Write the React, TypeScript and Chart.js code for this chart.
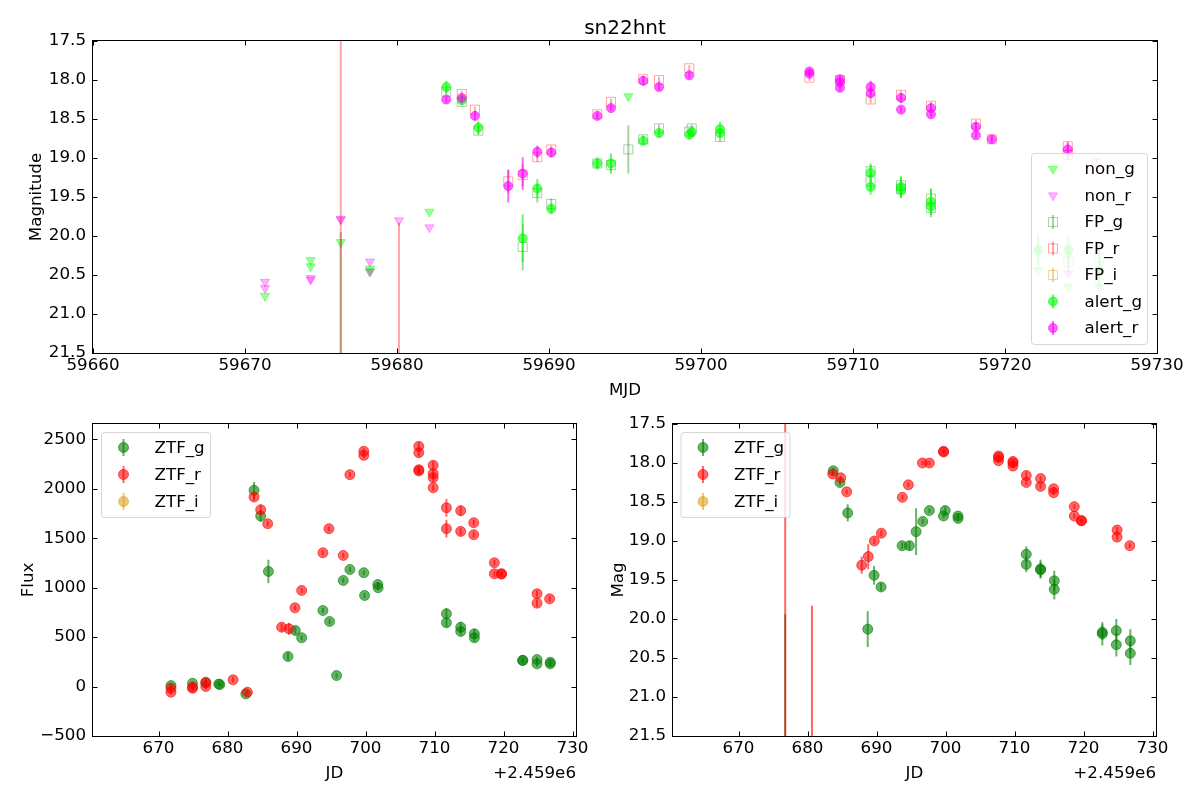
import React, { useEffect, useRef } from "react";
import { Chart, registerables } from "chart.js";

Chart.register(...registerables);

const FONT = "'DejaVu Sans', 'Liberation Sans', sans-serif";
const FS = 16.7;

// ---------------- top panel (MJD, magnitude[, error]) ----------------
const MJD_TICKS = [59660, 59670, 59680, 59690, 59700, 59710, 59720, 59730];
const MAG_TICKS = [17.5, 18.0, 18.5, 19.0, 19.5, 20.0, 20.5, 21.0, 21.5];

const NON_G: number[][] = [
  [59671.32, 20.77], [59674.32, 20.31], [59674.32, 20.39], [59676.3, 20.08],
  [59678.22, 20.42], [59678.22, 20.45], [59682.13, 19.69], [59695.22, 18.21],
  [59722.19, 20.44], [59724.17, 20.65], [59726.2, 20.65],
];
const NON_R: number[][] = [
  [59671.32, 20.59], [59671.32, 20.67], [59674.32, 20.54], [59674.32, 20.56],
  [59676.3, 19.78], [59676.3, 19.79], [59678.22, 20.33], [59678.22, 20.46],
  [59680.13, 19.8], [59682.13, 19.89], [59724.17, 20.48],
];
const FP_G: number[][] = [
  [59676.3, 22.5, 2.55], [59683.24, 18.15, 0.04], [59684.26, 18.28, 0.04],
  [59685.35, 18.65, 0.05], [59688.27, 20.14, 0.3], [59689.23, 19.45, 0.12],
  [59690.15, 19.59, 0.07], [59693.18, 19.07, 0.06], [59694.08, 19.09, 0.08],
  [59695.22, 18.89, 0.31], [59696.2, 18.76, 0.05], [59697.24, 18.62, 0.05],
  [59699.23, 18.66, 0.05], [59699.39, 18.62, 0.05], [59701.25, 18.73, 0.06],
  [59711.16, 19.17, 0.08], [59711.16, 19.3, 0.08], [59713.16, 19.35, 0.1],
  [59713.16, 19.4, 0.1], [59715.13, 19.52, 0.12], [59715.13, 19.64, 0.12],
  [59724.17, 20.33, 0.15], [59726.2, 20.28, 0.15],
];
const FP_R: number[][] = [
  [59676.3, 22.5, 5.2], [59680.13, 22.5, 2.67], [59684.26, 18.18, 0.04],
  [59685.13, 18.38, 0.04], [59687.32, 19.3, 0.15], [59688.27, 19.22, 0.15],
  [59689.23, 18.99, 0.06], [59690.15, 18.89, 0.05], [59693.18, 18.44, 0.04],
  [59694.08, 18.28, 0.04], [59696.2, 17.99, 0.04], [59697.24, 18.0, 0.04],
  [59699.23, 17.85, 0.04], [59707.13, 17.97, 0.04], [59709.14, 18.0, 0.04],
  [59711.16, 18.25, 0.05], [59713.16, 18.19, 0.05], [59715.13, 18.33, 0.05],
  [59718.09, 18.56, 0.05], [59719.13, 18.76, 0.04], [59724.13, 18.85, 0.06],
  [59724.13, 18.96, 0.06], [59726.03, 19.07, 0.06],
];
const FP_I: number[][] = [];
const ALERT_G: number[][] = [
  [59683.24, 18.09, 0.08], [59684.26, 18.26, 0.05], [59685.35, 18.61, 0.09],
  [59688.27, 20.03, 0.31], [59689.23, 19.39, 0.12], [59690.15, 19.65, 0.07],
  [59693.18, 19.07, 0.08], [59694.08, 19.07, 0.13], [59696.2, 18.78, 0.05],
  [59697.24, 18.68, 0.06], [59699.23, 18.7, 0.06], [59699.39, 18.67, 0.06],
  [59701.25, 18.63, 0.09], [59701.25, 18.68, 0.06], [59711.16, 19.19, 0.12],
  [59711.16, 19.37, 0.1], [59713.16, 19.37, 0.14], [59713.16, 19.41, 0.1],
  [59715.13, 19.56, 0.17], [59715.13, 19.62, 0.1], [59722.19, 20.18, 0.2],
  [59724.17, 20.18, 0.2], [59726.2, 20.44, 0.2],
];
const ALERT_R: number[][] = [
  [59683.24, 18.25, 0.04], [59684.26, 18.23, 0.04], [59685.13, 18.46, 0.06],
  [59687.32, 19.36, 0.21], [59688.27, 19.2, 0.21], [59689.23, 18.92, 0.08],
  [59690.15, 18.93, 0.06], [59693.18, 18.46, 0.04], [59694.08, 18.36, 0.04],
  [59696.2, 18.01, 0.06], [59697.24, 18.09, 0.04], [59699.23, 17.94, 0.04],
  [59707.13, 17.89, 0.04], [59707.13, 17.92, 0.04], [59709.14, 17.99, 0.04],
  [59709.14, 18.03, 0.04], [59709.14, 18.1, 0.04], [59711.16, 18.09, 0.08],
  [59711.16, 18.17, 0.06], [59713.16, 18.23, 0.06], [59713.16, 18.38, 0.04],
  [59715.13, 18.36, 0.05], [59715.13, 18.44, 0.04], [59718.09, 18.6, 0.05],
  [59718.09, 18.71, 0.04], [59719.13, 18.76, 0.04], [59724.13, 18.89, 0.08],
];

// ---------------- bottom panels (JD, flux / mag, error) ----------------
const JD_TICKS = [2459670, 2459680, 2459690, 2459700, 2459710, 2459720, 2459730];
const FLUX_TICKS = [-500, 0, 500, 1000, 1500, 2000, 2500];

const ZTF_G_FLUX: number[][] = [
  [2459671.8, 10, 25], [2459674.92, 33, 20], [2459676.85, 37, 30],
  [2459678.72, 25, 18], [2459678.88, 20, 18], [2459682.65, -74, 25],
  [2459683.84, 1984, 85], [2459684.8, 1724, 60], [2459685.92, 1164, 118],
  [2459688.76, 304, 40], [2459689.82, 567, 40], [2459690.74, 493, 25],
  [2459693.82, 769, 25], [2459694.79, 658, 25], [2459695.8, 111, 25],
  [2459696.77, 1073, 25], [2459697.73, 1184, 25], [2459699.75, 1151, 25],
  [2459699.86, 921, 25], [2459701.78, 1032, 25], [2459701.82, 999, 25],
  [2459711.72, 736, 55], [2459711.72, 645, 45], [2459713.79, 600, 55],
  [2459713.79, 557, 40], [2459715.77, 533, 50], [2459715.77, 493, 40],
  [2459722.76, 263, 20], [2459722.8, 265, 20], [2459724.85, 273, 30],
  [2459724.85, 230, 30], [2459726.77, 246, 25], [2459726.77, 230, 25],
];
const ZTF_R_FLUX: number[][] = [
  [2459671.8, -17, 25], [2459671.8, -57, 25], [2459674.92, -7, 20],
  [2459674.92, -17, 20], [2459676.85, 44, 40], [2459676.85, 0, 30],
  [2459680.8, 68, 28], [2459682.88, -57, 25], [2459683.84, 1916, 40],
  [2459684.8, 1788, 50], [2459685.82, 1646, 30], [2459687.84, 600, 40],
  [2459688.9, 584, 60], [2459689.77, 796, 25], [2459690.74, 972, 25],
  [2459693.82, 1353, 25], [2459694.69, 1596, 25], [2459696.77, 1326, 25],
  [2459697.73, 2143, 25], [2459699.75, 2379, 30], [2459699.75, 2338, 30],
  [2459707.72, 2429, 40], [2459707.72, 2365, 40], [2459707.72, 2193, 40],
  [2459707.72, 2180, 30], [2459709.8, 2237, 40], [2459709.8, 2153, 40],
  [2459709.8, 2112, 40], [2459709.8, 2011, 30], [2459711.72, 1808, 90],
  [2459711.72, 1596, 90], [2459713.79, 1778, 50], [2459713.79, 1569, 40],
  [2459715.68, 1657, 30], [2459715.68, 1535, 30], [2459718.67, 1252, 30],
  [2459718.67, 1140, 30], [2459719.68, 1140, 25], [2459719.72, 1138, 25],
  [2459724.85, 938, 35], [2459724.85, 843, 35], [2459726.68, 887, 30],
];
const ZTF_I_FLUX: number[][] = [];

const ZTF_G_MAG: number[][] = [
  [2459676.76, 22.5, 2.56], [2459683.73, 18.1, 0.04], [2459684.7, 18.25, 0.04],
  [2459685.82, 18.64, 0.11], [2459688.72, 20.13, 0.23], [2459689.64, 19.44, 0.12],
  [2459690.65, 19.59, 0.05], [2459693.7, 19.06, 0.04], [2459694.76, 19.06, 0.06],
  [2459695.73, 18.88, 0.3], [2459696.7, 18.75, 0.03], [2459697.66, 18.61, 0.03],
  [2459699.7, 18.68, 0.03], [2459699.95, 18.61, 0.05], [2459701.8, 18.68, 0.03],
  [2459701.82, 18.71, 0.03], [2459711.7, 19.17, 0.1], [2459711.7, 19.3, 0.1],
  [2459713.77, 19.36, 0.12], [2459713.77, 19.37, 0.1], [2459715.76, 19.51, 0.13],
  [2459715.76, 19.62, 0.13], [2459722.72, 20.19, 0.15], [2459722.72, 20.17, 0.1],
  [2459724.75, 20.15, 0.15], [2459724.75, 20.33, 0.15], [2459726.78, 20.28, 0.15],
  [2459726.78, 20.44, 0.15],
];
const ZTF_R_MAG: number[][] = [
  [2459676.76, 22.5, 5.2], [2459680.64, 22.5, 2.67], [2459683.64, 18.14, 0.03],
  [2459684.8, 18.19, 0.03], [2459685.67, 18.37, 0.03], [2459687.85, 19.31, 0.11],
  [2459688.8, 19.2, 0.16], [2459689.68, 19.0, 0.04], [2459690.69, 18.9, 0.04],
  [2459693.74, 18.44, 0.03], [2459694.61, 18.28, 0.03], [2459696.65, 18.0, 0.03],
  [2459697.66, 18.0, 0.03], [2459699.7, 17.85, 0.02], [2459699.72, 17.86, 0.02],
  [2459707.68, 17.91, 0.02], [2459707.68, 17.93, 0.02], [2459707.68, 17.97, 0.02],
  [2459709.77, 17.98, 0.02], [2459709.77, 18.0, 0.02], [2459709.77, 18.04, 0.02],
  [2459711.7, 18.16, 0.05], [2459711.7, 18.25, 0.03], [2459713.77, 18.2, 0.03],
  [2459713.77, 18.3, 0.03], [2459715.66, 18.33, 0.03], [2459715.66, 18.38, 0.03],
  [2459718.66, 18.56, 0.03], [2459718.66, 18.68, 0.03], [2459719.68, 18.74, 0.02],
  [2459719.72, 18.74, 0.02], [2459724.86, 18.86, 0.04], [2459724.86, 18.95, 0.04],
  [2459726.7, 19.06, 0.03],
];
const ZTF_I_MAG: number[][] = [];

// ---------------- styles ----------------
type Sty = { style: string; r: number; fill: string; stroke: string; bw: number; err: string | null };
const S_NON_G: Sty = { style: "triDown", r: 5.3, fill: "rgba(0,255,0,0.4)", stroke: "rgba(0,255,0,0.4)", bw: 1, err: null };
const S_NON_R: Sty = { style: "triDown", r: 5.3, fill: "rgba(255,0,255,0.3)", stroke: "rgba(255,0,255,0.3)", bw: 1, err: null };
const S_FP_G: Sty = { style: "rect", r: 6.4, fill: "rgba(0,0,0,0)", stroke: "rgba(0,128,0,0.35)", bw: 1, err: "rgba(0,128,0,0.35)" };
const S_FP_R: Sty = { style: "rect", r: 6.4, fill: "rgba(0,0,0,0)", stroke: "rgba(255,0,0,0.35)", bw: 1, err: "rgba(255,0,0,0.35)" };
const S_FP_I: Sty = { style: "rect", r: 6.4, fill: "rgba(0,0,0,0)", stroke: "rgba(218,165,32,0.45)", bw: 1, err: "rgba(218,165,32,0.45)" };
const S_AL_G: Sty = { style: "circle", r: 4.5, fill: "rgba(0,255,0,0.6)", stroke: "rgba(0,255,0,0.6)", bw: 1, err: "rgba(0,255,0,0.6)" };
const S_AL_R: Sty = { style: "circle", r: 4.5, fill: "rgba(255,0,255,0.6)", stroke: "rgba(255,0,255,0.6)", bw: 1, err: "rgba(255,0,255,0.6)" };
const S_ZTF_G: Sty = { style: "circle", r: 5, fill: "rgba(0,128,0,0.6)", stroke: "rgba(0,128,0,0.6)", bw: 1, err: "rgba(0,128,0,0.6)" };
const S_ZTF_R: Sty = { style: "circle", r: 5, fill: "rgba(255,0,0,0.6)", stroke: "rgba(255,0,0,0.6)", bw: 1, err: "rgba(255,0,0,0.6)" };
const S_ZTF_I: Sty = { style: "circle", r: 5, fill: "rgba(218,165,32,0.6)", stroke: "rgba(218,165,32,0.6)", bw: 1, err: "rgba(218,165,32,0.6)" };

const PAD_L = 80, PAD_R = 50, PAD_T = 24, PAD_B = 30;

function dataset(label: string, pts: number[][], s: Sty, order: number) {
  return {
    label,
    data: pts.map((p) => ({ x: p[0], y: p[1] })),
    errs: s.err ? pts.map((p) => p[2] || 0) : null,
    errColor: s.err,
    pointStyle: s.style === "triDown" ? "triangle" : s.style,
    pointRotation: s.style === "triDown" ? 180 : 0,
    pointRadius: s.r,
    pointHoverRadius: s.r,
    pointBackgroundColor: s.fill,
    pointBorderColor: s.stroke,
    pointBorderWidth: s.bw,
    backgroundColor: s.fill,
    borderColor: s.stroke,
    showLine: false,
    clip: 0,
    order,
  };
}

function drawMarker(ctx: CanvasRenderingContext2D, s: Sty, x: number, y: number) {
  const r = s.r;
  ctx.beginPath();
  if (s.style === "circle") ctx.arc(x, y, r, 0, Math.PI * 2);
  else if (s.style === "rect") {
    const h = r * Math.SQRT1_2;
    ctx.rect(x - h, y - h, 2 * h, 2 * h);
  } else {
    ctx.moveTo(x, y + r);
    ctx.lineTo(x - r * 0.866, y - r * 0.5);
    ctx.lineTo(x + r * 0.866, y - r * 0.5);
    ctx.closePath();
  }
  ctx.fillStyle = s.fill;
  ctx.fill();
  ctx.strokeStyle = s.stroke;
  ctx.lineWidth = s.bw;
  ctx.stroke();
}

const errPlugin = {
  id: "errbars",
  beforeDatasetDraw(chart: any, args: any) {
    const ds = chart.data.datasets[args.index];
    if (!ds.errs) return;
    const meta = args.meta;
    const xs = chart.scales[meta.xAxisID];
    const ys = chart.scales[meta.yAxisID];
    const a = chart.chartArea;
    const ctx = chart.ctx;
    ctx.save();
    ctx.beginPath();
    ctx.rect(a.left, a.top, a.right - a.left, a.bottom - a.top);
    ctx.clip();
    ctx.strokeStyle = ds.errColor;
    ctx.lineWidth = 2;
    ds.data.forEach((pt: any, j: number) => {
      const e = ds.errs[j];
      if (!e) return;
      const x = xs.getPixelForValue(pt.x);
      ctx.beginPath();
      ctx.moveTo(x, ys.getPixelForValue(pt.y - e));
      ctx.lineTo(x, ys.getPixelForValue(pt.y + e));
      ctx.stroke();
    });
    ctx.restore();
  },
};

const framePlugin = {
  id: "frame",
  afterDatasetsDraw(chart: any) {
    const ctx = chart.ctx;
    const a = chart.chartArea;
    const xs = chart.scales.x;
    const ys = chart.scales.y;
    ctx.save();
    ctx.strokeStyle = "#000";
    ctx.lineWidth = 1;
    const L = Math.round(a.left) - 0.5, R = Math.round(a.right) + 0.5;
    const T = Math.round(a.top) - 0.5, B = Math.round(a.bottom) + 0.5;
    ctx.strokeRect(L, T, R - L, B - T);
    const TL = 5;
    ctx.beginPath();
    xs.ticks.forEach((t: any) => {
      const px = Math.round(xs.getPixelForValue(t.value)) + 0.5;
      ctx.moveTo(px, B);
      ctx.lineTo(px, B - TL);
      ctx.moveTo(px, T);
      ctx.lineTo(px, T + TL);
    });
    ys.ticks.forEach((t: any) => {
      const py = Math.round(ys.getPixelForValue(t.value)) + 0.5;
      ctx.moveTo(L, py);
      ctx.lineTo(L + TL, py);
      ctx.moveTo(R, py);
      ctx.lineTo(R - TL, py);
    });
    ctx.stroke();
    ctx.restore();
  },
};

type LegendCfg = {
  fromRight: boolean;
  dx: number;
  dy: number;
  w: number;
  h: number;
  row0: number;
  rowStep: number;
  mx: number;
  tx: number;
  errHalf: number;
  items: { label: string; s: Sty }[];
};

function makeLegendPlugin(cfg: LegendCfg) {
  return {
    id: "boxLegend",
    afterDraw(chart: any) {
      const ctx = chart.ctx;
      const a = chart.chartArea;
      const x0 = cfg.fromRight ? a.right - cfg.dx : a.left + cfg.dx;
      const y0 = a.top + cfg.dy;
      ctx.save();
      ctx.beginPath();
      if ((ctx as any).roundRect) (ctx as any).roundRect(x0 + 0.5, y0 + 0.5, cfg.w, cfg.h, 3);
      else ctx.rect(x0 + 0.5, y0 + 0.5, cfg.w, cfg.h);
      ctx.fillStyle = "rgba(255,255,255,0.8)";
      ctx.fill();
      ctx.strokeStyle = "rgba(204,204,204,0.8)";
      ctx.lineWidth = 1;
      ctx.stroke();
      cfg.items.forEach((it, i) => {
        const cy = y0 + cfg.row0 + i * cfg.rowStep;
        const cx = x0 + cfg.mx;
        if (it.s.err) {
          ctx.strokeStyle = it.s.err;
          ctx.lineWidth = 2;
          ctx.beginPath();
          ctx.moveTo(cx, cy - cfg.errHalf);
          ctx.lineTo(cx, cy + cfg.errHalf);
          ctx.stroke();
        }
        drawMarker(ctx, it.s, cx, cy);
        ctx.fillStyle = "#000";
        ctx.font = `${FS}px ${FONT}`;
        ctx.textBaseline = "middle";
        ctx.textAlign = "left";
        ctx.fillText(it.label, x0 + cfg.tx, cy + 1);
      });
      ctx.restore();
    },
  };
}

function axis(horizontal: boolean, ticks: number[], min: number, max: number, fmt: (v: number) => string, reverse = false) {
  return {
    type: "linear",
    position: horizontal ? "bottom" : "left",
    min,
    max,
    reverse,
    grid: { display: false, drawTicks: false, tickLength: 0 },
    border: { display: false },
    afterBuildTicks: (s: any) => {
      s.ticks = ticks.map((v) => ({ value: v }));
    },
    afterFit: (s: any) => {
      if (horizontal) s.height = PAD_B;
      else s.width = PAD_L;
    },
    ticks: {
      callback: (v: any) => fmt(Number(v)),
      autoSkip: false,
      maxRotation: 0,
      minRotation: 0,
      padding: horizontal ? 3 : 7,
      color: "#000",
      font: { family: FONT, size: FS },
    },
  };
}

type Box = { left: number; top: number; w: number; h: number };

function Panel({ box, build }: { box: Box; build: () => any }) {
  const ref = useRef<HTMLCanvasElement | null>(null);
  useEffect(() => {
    const chart = new Chart(ref.current as HTMLCanvasElement, build());
    return () => chart.destroy();
  }, []);
  return (
    <div
      style={{
        position: "absolute",
        left: box.left - PAD_L,
        top: box.top - PAD_T,
        width: box.w + PAD_L + PAD_R,
        height: box.h + PAD_T + PAD_B,
      }}
    >
      <canvas ref={ref} />
    </div>
  );
}

function baseOptions(x: any, y: any) {
  return {
    responsive: true,
    maintainAspectRatio: false,
    animation: false,
    events: [],
    layout: { padding: { left: 0, top: PAD_T, right: PAD_R, bottom: 0 } },
    scales: { x, y },
    plugins: { legend: { display: false }, tooltip: { enabled: false }, title: { display: false } },
  };
}

const fmtMag = (v: number) => v.toFixed(1);
const fmtInt = (v: number) => (v < 0 ? "\u2212" + String(Math.abs(v)) : String(v));
const fmtJD = (v: number) => String(Math.round(v - 2459000));

function buildTop() {
  const series: [string, number[][], Sty][] = [
    ["non_g", NON_G, S_NON_G],
    ["non_r", NON_R, S_NON_R],
    ["FP_g", FP_G, S_FP_G],
    ["FP_r", FP_R, S_FP_R],
    ["FP_i", FP_I, S_FP_I],
    ["alert_g", ALERT_G, S_AL_G],
    ["alert_r", ALERT_R, S_AL_R],
  ];
  const n = series.length;
  return {
    type: "scatter",
    data: { datasets: series.map(([l, p, s], i) => dataset(l, p, s, n - i)) },
    options: baseOptions(
      axis(true, MJD_TICKS, 59660, 59730, fmtInt),
      axis(false, MAG_TICKS, 17.5, 21.5, fmtMag, true)
    ),
    plugins: [
      errPlugin,
      framePlugin,
      makeLegendPlugin({
        fromRight: true, dx: 126, dy: 112, w: 116, h: 191, row0: 16, rowStep: 26.5,
        mx: 22, tx: 53.5, errHalf: 7,
        items: series.map(([l, , s]) => ({ label: l, s })),
      }),
    ],
  };
}

function buildBottom(kind: "flux" | "mag") {
  const series: [string, number[][], Sty][] =
    kind === "flux"
      ? [["ZTF_g", ZTF_G_FLUX, S_ZTF_G], ["ZTF_r", ZTF_R_FLUX, S_ZTF_R], ["ZTF_i", ZTF_I_FLUX, S_ZTF_I]]
      : [["ZTF_g", ZTF_G_MAG, S_ZTF_G], ["ZTF_r", ZTF_R_MAG, S_ZTF_R], ["ZTF_i", ZTF_I_MAG, S_ZTF_I]];
  const n = series.length;
  const y =
    kind === "flux"
      ? axis(false, FLUX_TICKS, -500, 2655, fmtInt)
      : axis(false, MAG_TICKS, 17.5, 21.5, fmtMag, true);
  return {
    type: "scatter",
    data: { datasets: series.map(([l, p, s], i) => dataset(l, p, s, n - i)) },
    options: baseOptions(axis(true, JD_TICKS, 2459660.5, 2459730.5, fmtJD), y),
    plugins: [
      errPlugin,
      framePlugin,
      makeLegendPlugin({
        fromRight: false, dx: kind === "flux" ? 8 : 7.5, dy: 8, w: 109, h: 85, row0: 15.5, rowStep: 27,
        mx: 22.5, tx: 53.5, errHalf: 8.5,
        items: series.map(([l, , s]) => ({ label: l, s })),
      }),
    ],
  };
}

function Label({ x, y, text, size = FS, rot = false, align = "center" }: { x: number; y: number; text: string; size?: number; rot?: boolean; align?: string }) {
  const tr = align === "right" ? "translate(-100%,-50%)" : "translate(-50%,-50%)" + (rot ? " rotate(-90deg)" : "");
  return (
    <div
      style={{
        position: "absolute",
        left: x,
        top: y,
        transform: tr,
        fontFamily: FONT,
        fontSize: size,
        lineHeight: 1,
        whiteSpace: "nowrap",
        color: "#000",
      }}
    >
      {text}
    </div>
  );
}

const TOP_BOX: Box = { left: 93, top: 41, w: 1064, h: 312 };
const BL_BOX: Box = { left: 93, top: 424, w: 483, h: 312 };
const BR_BOX: Box = { left: 673, top: 424, w: 483, h: 312 };

export default function App() {
  return (
    <div style={{ position: "absolute", left: 0, top: 0, width: 1200, height: 800, background: "#fff", overflow: "hidden" }}>
      <Panel box={TOP_BOX} build={buildTop} />
      <Panel box={BL_BOX} build={() => buildBottom("flux")} />
      <Panel box={BR_BOX} build={() => buildBottom("mag")} />
      <Label x={625} y={27} text="sn22hnt" size={20} />
      <Label x={625} y={389} text="MJD" />
      <Label x={35} y={197} text="Magnitude" rot />
      <Label x={27} y={580} text="Flux" rot />
      <Label x={334.5} y={772} text="JD" />
      <Label x={576} y={772} text="+2.459e6" align="right" />
      <Label x={617} y={580} text="Mag" rot />
      <Label x={914.5} y={772} text="JD" />
      <Label x={1156} y={772} text="+2.459e6" align="right" />
    </div>
  );
}
